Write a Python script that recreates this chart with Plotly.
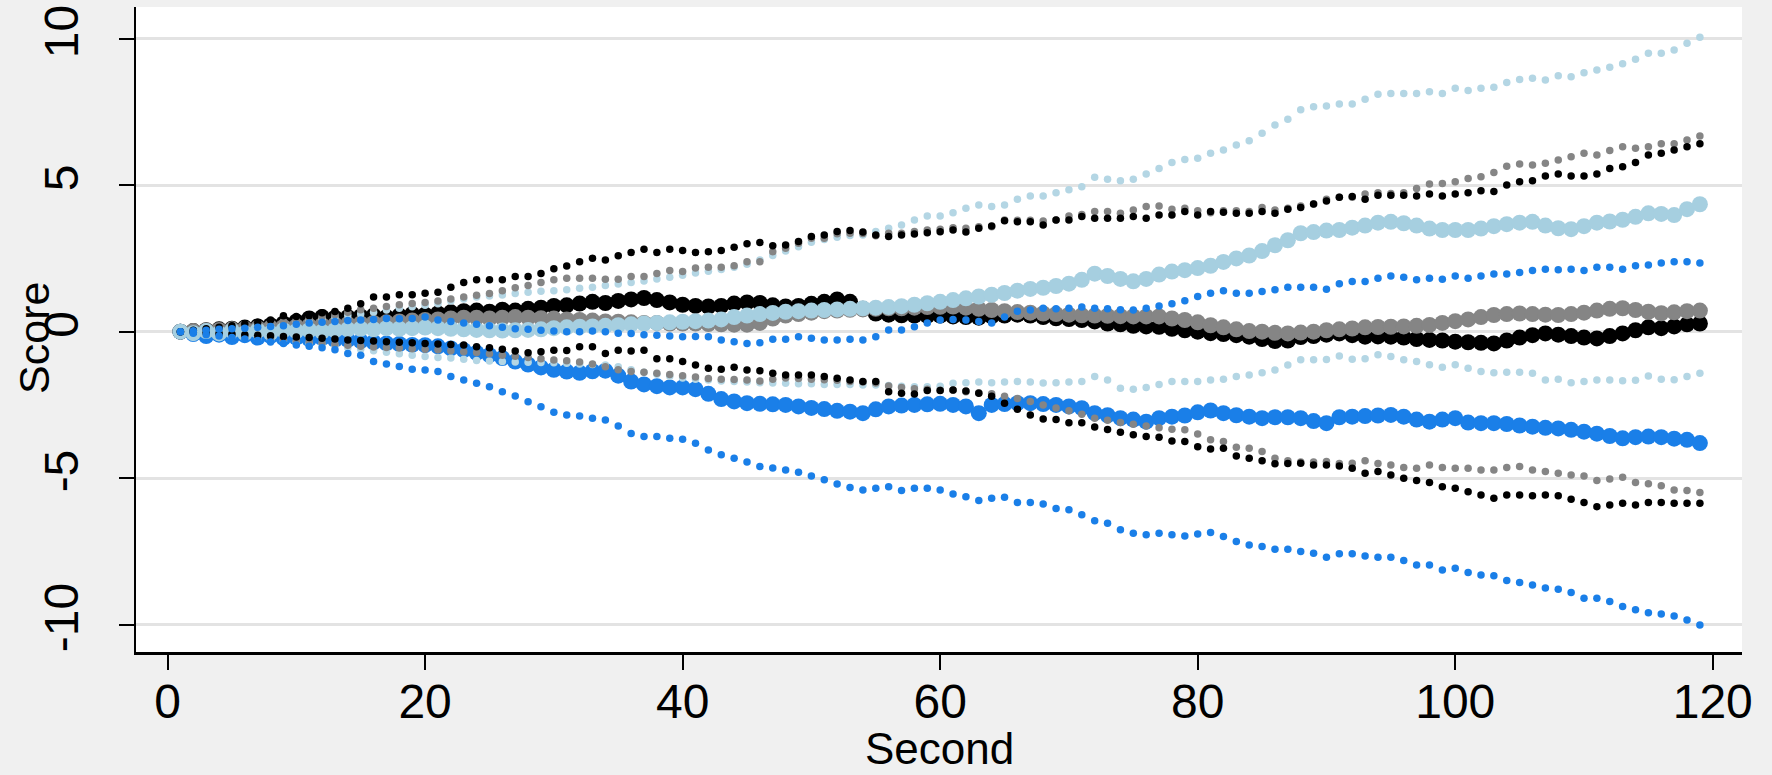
import plotly.graph_objects as go

seconds = list(range(1, 120))

black_mean = [0.0, 0.02, 0.05, 0.08, 0.1, 0.14, 0.18, 0.22, 0.28, 0.35,
              0.45, 0.5, 0.48, 0.5, 0.52, 0.55, 0.5, 0.55, 0.6, 0.58,
              0.62, 0.66, 0.7, 0.72, 0.68, 0.75, 0.72, 0.78, 0.82, 0.88,
              0.9, 0.96, 1.02, 0.98, 1.05, 1.1, 1.15, 1.08, 1.0, 0.92,
              0.88, 0.86, 0.88, 0.96, 1.0, 0.98, 0.9, 0.86, 0.88, 0.95,
              1.02, 1.1, 1.02, 0.78, 0.62, 0.58, 0.56, 0.55, 0.54, 0.55,
              0.52, 0.5, 0.48, 0.52, 0.55, 0.58, 0.55, 0.5, 0.46, 0.43,
              0.4, 0.35, 0.28, 0.25, 0.2, 0.18, 0.17, 0.1, 0.05, 0.0,
              -0.05, -0.08, -0.12, -0.17, -0.25, -0.32, -0.3, -0.18, -0.15, -0.1,
              -0.06, -0.12, -0.17, -0.16, -0.17, -0.2, -0.25, -0.28, -0.3, -0.34,
              -0.36, -0.38, -0.4, -0.3, -0.2, -0.12, -0.06, -0.1, -0.15, -0.2,
              -0.23, -0.15, -0.06, 0.05, 0.15, 0.12, 0.18, 0.25, 0.28]
black_upper = [0.0, 0.05, 0.1, 0.15, 0.2, 0.26, 0.32, 0.4, 0.54, 0.52,
               0.54, 0.65, 0.69, 0.8, 0.95, 1.18, 1.18, 1.26, 1.26, 1.31,
               1.35, 1.52, 1.68, 1.77, 1.77, 1.77, 1.88, 1.88, 1.99, 2.15,
               2.24, 2.39, 2.51, 2.45, 2.59, 2.7, 2.81, 2.7, 2.81, 2.77,
               2.7, 2.73, 2.77, 2.88, 3.0, 3.04, 2.93, 2.96, 3.08, 3.25,
               3.3, 3.42, 3.45, 3.4, 3.3, 3.25, 3.3, 3.33, 3.38, 3.41,
               3.47, 3.4, 3.53, 3.61, 3.79, 3.75, 3.75, 3.64, 3.81, 3.81,
               3.93, 3.87, 3.87, 3.87, 3.93, 3.87, 3.98, 3.98, 4.1, 3.98,
               4.1, 4.08, 4.04, 4.04, 4.1, 4.04, 4.18, 4.24, 4.36, 4.46,
               4.59, 4.61, 4.52, 4.66, 4.66, 4.66, 4.63, 4.7, 4.63, 4.7,
               4.74, 4.81, 4.78, 5.01, 5.12, 5.15, 5.31, 5.38, 5.31, 5.31,
               5.38, 5.57, 5.63, 5.77, 6.03, 6.09, 6.2, 6.31, 6.41]
black_lower = [0.0, -0.02, -0.04, -0.06, -0.08, -0.1, -0.12, -0.14, -0.16, -0.18,
               -0.2, -0.22, -0.25, -0.28, -0.3, -0.32, -0.34, -0.36, -0.38, -0.4,
               -0.42, -0.44, -0.45, -0.51, -0.55, -0.6, -0.66, -0.72, -0.68, -0.63,
               -0.64, -0.51, -0.51, -0.74, -0.63, -0.66, -0.63, -0.92, -0.92, -1.02,
               -1.14, -1.25, -1.28, -1.21, -1.31, -1.33, -1.42, -1.48, -1.48, -1.48,
               -1.53, -1.59, -1.65, -1.7, -1.7, -2.05, -2.1, -2.13, -2.01, -2.01,
               -1.99, -2.02, -2.1, -2.2, -2.44, -2.65, -2.84, -2.98, -3.0, -3.11,
               -3.11, -3.25, -3.34, -3.43, -3.52, -3.58, -3.6, -3.73, -3.75, -3.93,
               -4.0, -3.98, -4.24, -4.32, -4.4, -4.51, -4.5, -4.49, -4.55, -4.55,
               -4.58, -4.66, -4.83, -4.77, -4.89, -5.0, -5.08, -5.15, -5.29, -5.34,
               -5.46, -5.57, -5.68, -5.57, -5.57, -5.6, -5.57, -5.6, -5.72, -5.83,
               -5.97, -5.91, -5.85, -5.91, -5.83, -5.83, -5.85, -5.85, -5.85]

gray_mean = [0.0, 0.02, 0.04, 0.06, 0.08, 0.1, 0.12, 0.14, 0.16, 0.18,
             0.2, 0.22, 0.24, 0.26, 0.28, 0.3, 0.32, 0.35, 0.38, 0.4,
             0.42, 0.45, 0.48, 0.48, 0.45, 0.48, 0.5, 0.48, 0.46, 0.45,
             0.42, 0.4, 0.38, 0.35, 0.34, 0.32, 0.3, 0.3, 0.28, 0.28,
             0.28, 0.26, 0.25, 0.24, 0.24, 0.3, 0.45, 0.55, 0.6, 0.65,
             0.7, 0.72, 0.75, 0.76, 0.78, 0.8, 0.8, 0.82, 0.84, 0.85,
             0.86, 0.82, 0.78, 0.74, 0.7, 0.67, 0.65, 0.62, 0.6, 0.58,
             0.56, 0.55, 0.54, 0.53, 0.52, 0.52, 0.52, 0.45, 0.4, 0.32,
             0.22, 0.15, 0.08, 0.02, 0.0, -0.04, -0.06, -0.03, 0.0, 0.05,
             0.08, 0.11, 0.15, 0.16, 0.17, 0.18, 0.2, 0.23, 0.3, 0.36,
             0.42, 0.5, 0.57, 0.6, 0.62, 0.6, 0.58, 0.57, 0.6, 0.65,
             0.72, 0.78, 0.8, 0.74, 0.68, 0.63, 0.66, 0.7, 0.72]
gray_upper = [0.0, 0.04, 0.08, 0.12, 0.16, 0.2, 0.25, 0.3, 0.35, 0.4,
              0.46, 0.52, 0.58, 0.66, 0.75, 0.8, 0.86, 0.92, 0.96, 1.0,
              1.05, 1.12, 1.18, 1.24, 1.3, 1.4, 1.5, 1.58, 1.68, 1.77,
              1.82, 1.82, 1.82, 1.79, 1.79, 1.88, 1.88, 1.99, 2.09, 2.05,
              2.17, 2.2, 2.2, 2.25, 2.39, 2.39, 2.73, 2.85, 3.02, 3.19,
              3.19, 3.34, 3.36, 3.35, 3.27, 3.36, 3.36, 3.42, 3.47, 3.5,
              3.55, 3.53, 3.58, 3.58, 3.81, 3.8, 3.8, 3.78, 3.81, 3.95,
              4.0, 4.1, 4.1, 4.04, 4.15, 4.27, 4.29, 4.18, 4.21, 4.13,
              4.06, 4.13, 4.13, 4.1, 4.24, 4.15, 4.21, 4.29, 4.36, 4.52,
              4.59, 4.59, 4.7, 4.74, 4.72, 4.74, 4.89, 5.04, 5.06, 5.12,
              5.23, 5.29, 5.43, 5.65, 5.72, 5.69, 5.75, 5.86, 5.97, 6.09,
              6.03, 6.18, 6.31, 6.26, 6.31, 6.41, 6.41, 6.54, 6.68]
gray_lower = [0.0, -0.03, -0.06, -0.09, -0.12, -0.15, -0.18, -0.21, -0.25, -0.3,
              -0.34, -0.38, -0.42, -0.46, -0.5, -0.52, -0.54, -0.56, -0.58, -0.6,
              -0.62, -0.65, -0.68, -0.71, -0.75, -0.8, -0.84, -0.88, -0.92, -0.97,
              -0.99, -1.03, -1.1, -1.2, -1.3, -1.36, -1.38, -1.42, -1.46, -1.5,
              -1.55, -1.6, -1.62, -1.63, -1.65, -1.68, -1.62, -1.58, -1.6, -1.62,
              -1.64, -1.66, -1.7, -1.72, -1.75, -1.85, -1.9, -1.95, -1.96, -2.0,
              -2.0, -2.05, -2.08, -2.12, -2.2, -2.28, -2.38, -2.5, -2.6, -2.7,
              -2.82, -2.95, -3.02, -3.1, -3.16, -3.22, -3.28, -3.33, -3.35, -3.49,
              -3.69, -3.75, -3.94, -3.98, -4.09, -4.32, -4.4, -4.45, -4.45, -4.43,
              -4.5, -4.49, -4.4, -4.5, -4.55, -4.63, -4.66, -4.55, -4.63, -4.66,
              -4.66, -4.72, -4.72, -4.63, -4.6, -4.72, -4.77, -4.83, -4.89, -4.92,
              -5.08, -5.03, -4.97, -5.15, -5.19, -5.26, -5.4, -5.42, -5.49]

lightblue_mean = [0.0, -0.05, 0.02, -0.06, 0.03, -0.05, 0.04, -0.04, 0.05, 0.02,
                  0.05, 0.0, 0.05, 0.08, 0.1, 0.08, 0.12, 0.1, 0.12, 0.14,
                  0.12, 0.1, 0.08, 0.06, 0.05, 0.04, 0.05, 0.06, 0.08, 0.12,
                  0.15, 0.17, 0.18, 0.2, 0.22, 0.25, 0.28, 0.3, 0.32, 0.34,
                  0.36, 0.38, 0.42, 0.5, 0.55, 0.6, 0.64, 0.68, 0.7, 0.72,
                  0.74, 0.76, 0.78, 0.8, 0.82, 0.84, 0.87, 0.92, 0.97, 1.02,
                  1.08, 1.14, 1.2, 1.26, 1.32, 1.4, 1.46, 1.5, 1.56, 1.64,
                  1.77, 1.98, 1.9, 1.8, 1.72, 1.8, 1.95, 2.05, 2.1, 2.17,
                  2.25, 2.38, 2.5, 2.6, 2.75, 2.95, 3.12, 3.36, 3.4, 3.45,
                  3.47, 3.55, 3.62, 3.72, 3.75, 3.7, 3.62, 3.52, 3.47, 3.47,
                  3.47, 3.52, 3.6, 3.67, 3.72, 3.75, 3.62, 3.53, 3.5, 3.6,
                  3.72, 3.76, 3.82, 3.92, 4.04, 4.02, 3.98, 4.18, 4.35]
lightblue_upper = [0.0, 0.03, 0.06, 0.1, 0.13, 0.17, 0.2, 0.25, 0.3, 0.35,
                   0.4, 0.45, 0.5, 0.55, 0.6, 0.66, 0.74, 0.8, 0.85, 0.9,
                   0.95, 1.05, 1.12, 1.18, 1.22, 1.25, 1.3, 1.35, 1.38, 1.4,
                   1.43, 1.48, 1.52, 1.58, 1.63, 1.68, 1.73, 1.8, 1.86, 1.93,
                   2.0, 2.06, 2.12, 2.2, 2.3, 2.45, 2.6, 2.75, 2.9, 3.05,
                   3.15, 3.22, 3.28, 3.3, 3.42, 3.53, 3.64, 3.81, 3.95, 3.95,
                   4.06, 4.21, 4.32, 4.27, 4.32, 4.52, 4.63, 4.63, 4.74, 4.84,
                   4.95, 5.27, 5.2, 5.15, 5.2, 5.38, 5.57, 5.77, 5.88, 5.92,
                   6.09, 6.2, 6.37, 6.52, 6.77, 7.05, 7.25, 7.57, 7.68, 7.7,
                   7.77, 7.77, 7.93, 8.1, 8.13, 8.13, 8.13, 8.19, 8.13, 8.31,
                   8.23, 8.31, 8.34, 8.5, 8.61, 8.65, 8.59, 8.73, 8.7, 8.84,
                   8.93, 9.02, 9.14, 9.3, 9.5, 9.5, 9.61, 9.84, 10.05]
lightblue_lower = [0.0, -0.04, -0.08, -0.12, -0.16, -0.2, -0.24, -0.28, -0.32, -0.35,
                   -0.4, -0.45, -0.5, -0.55, -0.6, -0.65, -0.7, -0.75, -0.8, -0.85,
                   -0.88, -0.9, -0.94, -0.98, -1.0, -1.02, -1.03, -1.04, -1.05, -1.06,
                   -1.08, -1.1, -1.12, -1.14, -1.2, -1.3, -1.38, -1.45, -1.52, -1.58,
                   -1.62, -1.65, -1.68, -1.7, -1.72, -1.74, -1.75, -1.76, -1.78, -1.78,
                   -1.8, -1.8, -1.8, -1.82, -1.82, -1.84, -1.86, -1.88, -1.88, -1.86,
                   -1.76, -1.74, -1.72, -1.74, -1.72, -1.7, -1.72, -1.75, -1.74, -1.72,
                   -1.7, -1.53, -1.65, -1.93, -1.96, -1.9, -1.8, -1.7, -1.7, -1.7,
                   -1.65, -1.62, -1.53, -1.48, -1.4, -1.31, -1.14, -0.96, -0.96, -0.95,
                   -0.83, -0.94, -0.92, -0.79, -0.85, -0.96, -1.02, -1.13, -1.21, -1.13,
                   -1.25, -1.36, -1.4, -1.38, -1.38, -1.42, -1.65, -1.62, -1.74, -1.7,
                   -1.65, -1.65, -1.67, -1.66, -1.51, -1.62, -1.64, -1.53, -1.42]

blue_mean = [0.0, -0.08, -0.15, -0.1, -0.18, -0.12, -0.2, -0.15, -0.22, -0.2,
             -0.25, -0.22, -0.28, -0.28, -0.32, -0.36, -0.4, -0.42, -0.45, -0.46,
             -0.5, -0.57, -0.63, -0.72, -0.8, -0.9, -1.02, -1.12, -1.22, -1.3,
             -1.36, -1.4, -1.35, -1.33, -1.5, -1.7, -1.8, -1.86, -1.9, -1.9,
             -1.96, -2.12, -2.3, -2.38, -2.44, -2.46, -2.48, -2.5, -2.55, -2.6,
             -2.64, -2.7, -2.73, -2.78, -2.65, -2.55, -2.52, -2.5, -2.48, -2.46,
             -2.5, -2.55, -2.78, -2.5, -2.47, -2.44, -2.44, -2.47, -2.5, -2.55,
             -2.61, -2.78, -2.85, -2.95, -3.0, -3.07, -2.95, -2.9, -2.86, -2.75,
             -2.69, -2.78, -2.85, -2.9, -2.95, -2.92, -2.92, -2.95, -3.05, -3.12,
             -2.92, -2.9, -2.88, -2.86, -2.84, -2.9, -3.0, -3.07, -3.0, -2.95,
             -3.1, -3.12, -3.12, -3.15, -3.2, -3.24, -3.28, -3.3, -3.35, -3.41,
             -3.48, -3.56, -3.64, -3.6, -3.58, -3.6, -3.65, -3.69, -3.8]
blue_upper = [0.0, 0.03, 0.05, 0.08, 0.1, 0.12, 0.15, 0.18, 0.2, 0.25,
              0.3, 0.32, 0.35, 0.38, 0.4, 0.42, 0.45, 0.44, 0.45, 0.5,
              0.4, 0.35, 0.3, 0.25, 0.2, 0.15, 0.1, 0.08, 0.05, 0.02,
              0.0, 0.0, 0.02, 0.0, -0.05, -0.06, -0.1, -0.12, -0.15, -0.17,
              -0.16, -0.17, -0.28, -0.34, -0.4, -0.38, -0.26, -0.26, -0.17, -0.22,
              -0.28, -0.28, -0.26, -0.28, -0.17, 0.06, 0.06, 0.17, 0.3, 0.4,
              0.42, 0.4, 0.35, 0.3, 0.5, 0.7, 0.74, 0.8, 0.78, 0.8,
              0.84, 0.8, 0.78, 0.75, 0.74, 0.8, 0.88, 0.95, 1.06, 1.2,
              1.31, 1.4, 1.31, 1.31, 1.37, 1.43, 1.52, 1.52, 1.52, 1.45,
              1.64, 1.71, 1.71, 1.82, 1.9, 1.86, 1.77, 1.82, 1.79, 1.9,
              1.82, 1.9, 1.97, 1.97, 2.02, 2.09, 2.13, 2.11, 2.13, 2.09,
              2.2, 2.2, 2.13, 2.25, 2.28, 2.34, 2.39, 2.39, 2.34]
blue_lower = [0.0, -0.05, -0.1, -0.15, -0.2, -0.25, -0.3, -0.35, -0.4, -0.45,
              -0.5, -0.55, -0.62, -0.74, -0.8, -1.02, -1.1, -1.19, -1.28, -1.31,
              -1.36, -1.53, -1.65, -1.76, -1.88, -2.05, -2.19, -2.39, -2.56, -2.75,
              -2.84, -2.88, -2.95, -3.01, -3.22, -3.47, -3.58, -3.58, -3.64, -3.67,
              -3.81, -4.04, -4.2, -4.32, -4.45, -4.6, -4.65, -4.72, -4.8, -4.92,
              -5.05, -5.2, -5.32, -5.4, -5.34, -5.29, -5.42, -5.34, -5.34, -5.4,
              -5.54, -5.63, -5.76, -5.68, -5.65, -5.83, -5.83, -5.88, -6.03, -6.08,
              -6.25, -6.45, -6.54, -6.76, -6.88, -6.93, -6.88, -6.93, -6.97, -6.9,
              -6.85, -6.99, -7.16, -7.28, -7.33, -7.42, -7.42, -7.5, -7.56, -7.7,
              -7.58, -7.58, -7.65, -7.7, -7.7, -7.81, -7.96, -7.96, -8.13, -8.07,
              -8.22, -8.3, -8.33, -8.49, -8.56, -8.64, -8.75, -8.79, -8.9, -9.1,
              -9.1, -9.21, -9.38, -9.49, -9.59, -9.63, -9.7, -9.84, -10.01]

x_ticks = [0, 20, 40, 60, 80, 100, 120]
y_ticks = [-10, -5, 0, 5, 10]
y_tick_text = ["-10", "-5", "0", "5", "10"]

C_BLACK = "#000000"
C_GRAY = "#858585"
C_LBLUE = "#a6cfe0"
C_LBLUE_CI = "#b4d6e4"
C_BLUE = "#1a7fe8"
BG = "#f0f0f0"

FONT = "Liberation Sans Narrow, Arial Narrow, Liberation Sans, Arial, sans-serif"

fig = go.Figure()


def add(y, color, size, name):
    fig.add_trace(go.Scatter(
        x=seconds, y=y, mode="markers", name=name, showlegend=False,
        marker=dict(color=color, size=size, line=dict(width=0)),
    ))


# means
add(blue_mean, C_BLUE, 16, "blue mean")
add(black_mean, C_BLACK, 16, "black mean")
add(gray_mean, C_GRAY, 16, "gray mean")
add(lightblue_mean, C_LBLUE, 16, "light blue mean")
# confidence bounds
for y, c, n in [
    (lightblue_upper, C_LBLUE_CI, "lb upper"), (lightblue_lower, C_LBLUE_CI, "lb lower"),
    (gray_upper, C_GRAY, "gray upper"), (gray_lower, C_GRAY, "gray lower"),
    (black_upper, C_BLACK, "black upper"), (black_lower, C_BLACK, "black lower"),
    (blue_upper, C_BLUE, "blue upper"), (blue_lower, C_BLUE, "blue lower"),
]:
    add(y, c, 7.5, n)

fig.add_shape(type="line", xref="paper", yref="y", x0=0, x1=1, y0=0, y1=0,
              line=dict(color="black", width=2.5), layer="below")

fig.update_layout(
    width=1772, height=775, autosize=False,
    margin=dict(l=136, r=30, t=7, b=123),
    paper_bgcolor=BG, plot_bgcolor="#ffffff",
    font=dict(family=FONT, color="black"),
    showlegend=False,
    annotations=[
        dict(text="Second", xref="paper", yref="paper", x=0.5, y=-0.149,
             xanchor="center", yanchor="middle", showarrow=False,
             font=dict(size=44, family=FONT, color="black")),
        dict(text="Score", xref="paper", yref="paper", x=-0.0635, y=0.487,
             xanchor="center", yanchor="middle", showarrow=False, textangle=-90,
             font=dict(size=43, family=FONT, color="black")),
    ],
)
fig.update_xaxes(
    range=[-2.45, 122.27], tickvals=x_ticks, ticks="outside", ticklen=15,
    tickwidth=2, tickcolor="black", showline=True, linecolor="black", linewidth=2.5,
    showgrid=False, zeroline=False, automargin=False, ticklabelstandoff=-9,
    tickfont=dict(size=48, family=FONT, color="black"),
)
fig.update_yaxes(
    range=[-10.93, 11.08], tickvals=y_ticks, ticktext=y_tick_text, tickangle=-90,
    ticks="outside", ticklen=15, tickwidth=2, tickcolor="black",
    showline=True, linecolor="black", linewidth=2.5,
    showgrid=True, gridcolor="#e3e3e3", gridwidth=3, zeroline=False, automargin=False,
    tickfont=dict(size=48, family=FONT, color="black"), ticklabelstandoff=21,
)

fig.write_html(
    "out.html",
    config={"displayModeBar": False, "staticPlot": True},
    post_script="document.body.style.margin='0';document.body.style.padding='0';"
                "document.body.style.background='" + BG + "';"
                "document.documentElement.style.overflow='hidden';",
)
